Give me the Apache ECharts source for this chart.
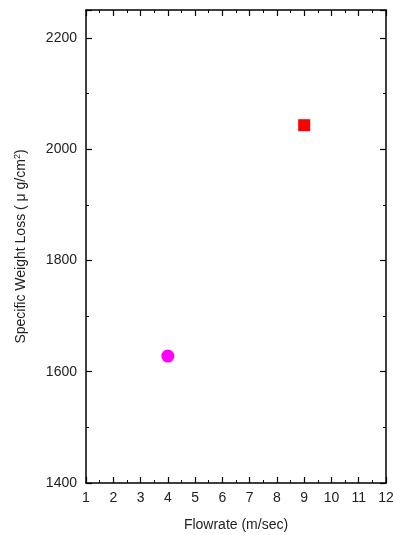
<!DOCTYPE html>
<html>
<head>
<meta charset="utf-8">
<script src="https://cdn.jsdelivr.net/npm/echarts@6/dist/echarts.min.js"></script>
<style>
  html, body { margin: 0; padding: 0; background: #fff; }
  #chart { width: 393px; height: 535px; }
</style>
</head>
<body>
<div id="chart"></div>
<script>
// 数据
var circlePoints = [[4, 1628]];
var squarePoints = [[9, 2043]];
var xRange = [1, 12];
var yRange = [1400, 2250];

(function () {
    var myChart = echarts.init(document.getElementById('chart'));
    var font = 'Liberation Sans, Arial, sans-serif';

    // 共用的坐标轴样式
    function axisBase(extra) {
        var base = {
            axisLine: { show: true, onZero: false, lineStyle: { color: '#000', width: 1.5 } },
            axisTick: { show: true, inside: true, length: 6, lineStyle: { color: '#000', width: 1.2 } },
            minorTick: { show: true, splitNumber: 2, length: 3, lineStyle: { color: '#000', width: 1 } },
            splitLine: { show: false },
            axisLabel: { color: '#222', fontSize: 14, fontFamily: font }
        };
        return Object.assign(base, extra);
    }

    var option = {
        backgroundColor: '#fff',
        grid: { left: 86, right: 7, top: 10, bottom: 52, outerBoundsMode: 'none', containLabel: false },
        xAxis: [
            axisBase({
                type: 'value', min: xRange[0], max: xRange[1], interval: 1,
                name: 'Flowrate (m/sec)', nameLocation: 'middle', nameGap: 35,
                nameTextStyle: { color: '#222', fontSize: 14, fontFamily: font },
                axisLabel: { color: '#222', fontSize: 14, fontFamily: font, margin: 8 }
            }),
            axisBase({
                type: 'value', min: xRange[0], max: xRange[1], interval: 1,
                position: 'top', axisLabel: { show: false }
            })
        ],
        yAxis: [
            axisBase({
                type: 'value', min: yRange[0], max: yRange[1], interval: 200,
                name: 'Specific Weight Loss ( \u03bc g/cm{sup|2})', nameLocation: 'middle', nameGap: 57,
                nameTextStyle: {
                    color: '#222', fontSize: 14, fontFamily: font,
                    rich: { sup: { fontSize: 9, verticalAlign: 'top', color: '#222', fontFamily: font, padding: [0, 0, 7, 0] } }
                },
                axisLabel: {
                    color: '#222', fontSize: 14, fontFamily: font, margin: 9, showMaxLabel: false,
                    formatter: function (v) { return String(v); }
                }
            }),
            axisBase({
                type: 'value', min: yRange[0], max: yRange[1], interval: 200,
                position: 'right', axisLabel: { show: false }
            })
        ],
        series: [
            {
                type: 'scatter', data: circlePoints, symbol: 'circle', symbolSize: 13,
                itemStyle: { color: '#ff00ff', opacity: 1 }
            },
            {
                type: 'scatter', data: squarePoints, symbol: 'rect', symbolSize: 12,
                itemStyle: { color: '#ff0000', opacity: 1 }
            }
        ]
    };
    myChart.setOption(option);
    window.addEventListener('resize', function () {
        myChart.resize();
    });
})();
</script>
</body>
</html>
